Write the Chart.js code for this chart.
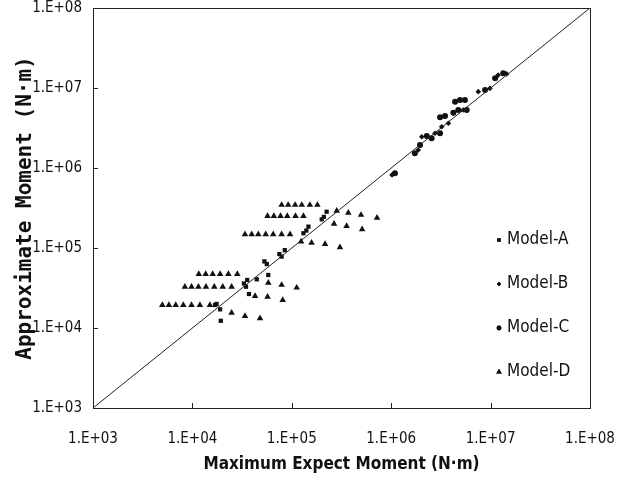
<!DOCTYPE html>
<html>
<head>
<meta charset="utf-8">
<script src="https://cdn.jsdelivr.net/npm/chart.js@4.4.1/dist/chart.umd.min.js"></script>
<style>
  html, body { margin: 0; padding: 0; background: #fff; }
  #wrap { position: relative; width: 628px; height: 485px; }
</style>
</head>
<body>
<div id="wrap"><canvas id="c" width="628" height="485"></canvas></div>
<script>
// ---------- data ----------
const tickValues = [1e3, 1e4, 1e5, 1e6, 1e7, 1e8];
const seriesNames = ['Model-A', 'Model-B', 'Model-C', 'Model-D'];

const modelA_x = [1.69e4, 1.9e4, 1.93e4, 1.75e4, 3.56e4, 3.46e4, 3.71e4, 4.44e4, 3.3e4, 5.6e4, 5.8e4, 5.3e4, 7.9e4, 8.5e4, 7.5e4, 1.31e5, 1.47e5, 1.4e5, 2.0e5, 2.24e5, 2.1e5];
const modelA_y = [1.94e4, 1.71e4, 1.23e4, 2.0e4, 3.98e4, 3.28e4, 2.66e4, 4.06e4, 3.6e4, 6.3e4, 4.6e4, 6.8e4, 7.8e4, 9.4e4, 8.4e4, 1.53e5, 1.85e5, 1.65e5, 2.28e5, 2.84e5, 2.45e5];

const modelB_x = [1.02e6, 1.87e6, 2.03e6, 2.76e6, 3.22e6, 3.76e6, 5.31e6, 7.52e6, 9.86e6, 1.19e7, 1.45e7];
const modelB_y = [8.2e5, 1.68e6, 2.46e6, 2.72e6, 3.28e6, 3.62e6, 5.31e6, 9.0e6, 9.9e6, 1.45e7, 1.5e7];

const modelC_x = [1.09e6, 1.73e6, 1.95e6, 2.28e6, 2.55e6, 3.1e6, 3.1e6, 3.48e6, 4.22e6, 4.73e6, 5.75e6, 4.39e6, 4.92e6, 5.52e6, 8.8e6, 1.11e7, 1.34e7];
const modelC_y = [8.6e5, 1.53e6, 1.94e6, 2.51e6, 2.35e6, 2.72e6, 4.3e6, 4.47e6, 4.91e6, 5.31e6, 5.31e6, 6.74e6, 7.08e6, 7.08e6, 9.44e6, 1.32e7, 1.53e7];

const modelD_x = [
  7.9e4, 9.2e4, 1.08e5, 1.26e5, 1.52e5, 1.81e5,
  5.7e4, 6.6e4, 7.7e4, 9.0e4, 1.09e5, 1.31e5,
  2.83e5, 3.7e5, 4.97e5, 7.2e5,
  3.38e4, 3.95e4, 4.6e4, 5.46e4, 6.5e4, 7.9e4, 9.6e4,
  2.66e5, 3.56e5, 5.1e5, 1.58e5, 2.16e5, 3.05e5, 1.24e5,
  1.16e4, 1.36e4, 1.6e4, 1.9e4, 2.3e4, 2.83e4,
  8.4e3, 9.8e3, 1.15e4, 1.37e4, 1.66e4, 2.02e4, 2.48e4,
  5.8e4, 7.9e4, 1.12e5, 4.27e4, 5.7e4, 8.1e4,
  4.98e3, 5.8e3, 6.8e3, 8.1e3, 9.8e3, 1.19e4, 1.5e4,
  2.48e4, 3.38e4, 4.79e4
];
const modelD_y = [
  3.45e5, 3.45e5, 3.45e5, 3.45e5, 3.45e5, 3.45e5,
  2.51e5, 2.51e5, 2.51e5, 2.51e5, 2.51e5, 2.51e5,
  2.92e5, 2.76e5, 2.59e5, 2.39e5,
  1.48e5, 1.48e5, 1.48e5, 1.48e5, 1.48e5, 1.48e5, 1.48e5,
  2.0e5, 1.88e5, 1.71e5, 1.16e5, 1.12e5, 1.02e5, 1.2e5,
  4.73e4, 4.73e4, 4.73e4, 4.73e4, 4.73e4, 4.73e4,
  3.28e4, 3.28e4, 3.28e4, 3.28e4, 3.28e4, 3.28e4, 3.28e4,
  3.68e4, 3.45e4, 3.19e4, 2.51e4, 2.46e4, 2.24e4,
  1.94e4, 1.94e4, 1.94e4, 1.94e4, 1.94e4, 1.94e4, 1.94e4,
  1.55e4, 1.41e4, 1.32e4
];

const refLine_x = [1e3, 1e8];
const refLine_y = [1e3, 1e8];

const xTitle = 'Maximum Expect Moment (N·m)';
const yTitle = 'Approximate Moment (N·m)';

// ---------- helpers ----------
const pts = (xs, ys) => xs.map((x, i) => ({ x: x, y: ys[i] }));
const tickLabel = v => '1.E+' + String(Math.round(Math.log10(v))).padStart(2, '0');
const narrow = "'Liberation Sans Narrow', 'DejaVu Sans Condensed', 'Arial Narrow', sans-serif";
const INK = '#111';

const markerStyles = [
  { style: 'rect', r: 3.0 },
  { style: 'rectRot', r: 2.8 },
  { style: 'circle', r: 3.0 },
  { style: 'triangle', r: 3.8 }
];

const datasets = [
  { label: seriesNames[0], data: pts(modelA_x, modelA_y) },
  { label: seriesNames[1], data: pts(modelB_x, modelB_y) },
  { label: seriesNames[2], data: pts(modelC_x, modelC_y) },
  { label: seriesNames[3], data: pts(modelD_x, modelD_y) }
].map((d, i) => Object.assign(d, {
  type: 'scatter',
  pointStyle: markerStyles[i].style,
  pointRadius: markerStyles[i].r,
  pointHoverRadius: markerStyles[i].r,
  backgroundColor: INK,
  borderColor: INK,
  borderWidth: 0,
  showLine: false
}));

datasets.unshift({
  type: 'line',
  label: '_ref',
  data: pts(refLine_x, refLine_y),
  borderColor: '#222',
  borderWidth: 1,
  pointRadius: 0,
  fill: false
});

// frame, inward ticks and legend inside the plot area
const decorPlugin = {
  id: 'decor',
  afterDraw(chart) {
    const { ctx, chartArea: a, scales } = chart;
    ctx.save();
    ctx.strokeStyle = '#222';
    ctx.lineWidth = 1;
    ctx.strokeRect(a.left + 0.5, a.top + 0.5, a.right - a.left, a.bottom - a.top);
    ctx.beginPath();
    tickValues.forEach(v => {
      const px = Math.round(scales.x.getPixelForValue(v)) + 0.5;
      ctx.moveTo(px, a.bottom);
      ctx.lineTo(px, a.bottom - 5);
      const py = Math.round(scales.y.getPixelForValue(v)) + 0.5;
      ctx.moveTo(a.left, py);
      ctx.lineTo(a.left + 5, py);
    });
    ctx.stroke();

    // legend
    ctx.fillStyle = INK;
    ctx.font = '17px ' + narrow;
    ctx.textBaseline = 'middle';
    ctx.textAlign = 'left';
    const legendX = a.left + 406;
    const legendY0 = a.top + 232;
    const step = 44;
    seriesNames.forEach((name, i) => {
      const y = legendY0 + i * step;
      const ms = markerStyles[i];
      Chart.helpers.drawPoint(ctx, { pointStyle: ms.style, radius: ms.r - 0.6, borderWidth: 0 }, legendX, y);
      ctx.fill();
      ctx.fillText(name, legendX + 8, y);
    });
    ctx.restore();
  }
};

new Chart(document.getElementById('c'), {
  data: { datasets: datasets },
  options: {
    responsive: false,
    animation: false,
    devicePixelRatio: 1,
    layout: { padding: { top: 8, right: 38, left: 0, bottom: 0 } },
    plugins: {
      legend: { display: false },
      tooltip: { enabled: false }
    },
    scales: {
      x: {
        type: 'logarithmic',
        position: 'bottom',
        min: 1e3, max: 1e8,
        afterBuildTicks: s => { s.ticks = tickValues.map(v => ({ value: v })); },
        afterFit: s => { s.height = 77; s.paddingLeft = 0; s.paddingRight = 0; },
        grid: { display: false, drawTicks: false },
        border: { display: false },
        ticks: {
          autoSkip: false, maxRotation: 0, padding: 22,
          color: INK,
          font: { family: narrow, size: 15 },
          callback: v => tickLabel(v)
        },
        title: {
          display: true, text: xTitle, color: INK,
          font: { family: narrow, size: 17, weight: 'bold' },
          padding: { top: 0, bottom: 10 }
        }
      },
      y: {
        type: 'logarithmic',
        position: 'left',
        min: 1e3, max: 1e8,
        afterBuildTicks: s => { s.ticks = tickValues.map(v => ({ value: v })); },
        afterFit: s => { s.width = 93; s.paddingTop = 0; s.paddingBottom = 0; },
        grid: { display: false, drawTicks: false },
        border: { display: false },
        ticks: {
          autoSkip: false, padding: 11,
          color: INK,
          font: { family: narrow, size: 15 },
          callback: v => tickLabel(v)
        },
        title: {
          display: true, text: yTitle, color: INK,
          font: { family: "'DejaVu Sans Mono', monospace", size: 21, weight: 'bold' },
          padding: { top: 13, bottom: 0 }
        }
      }
    }
  },
  plugins: [decorPlugin]
});
</script>
</body>
</html>
